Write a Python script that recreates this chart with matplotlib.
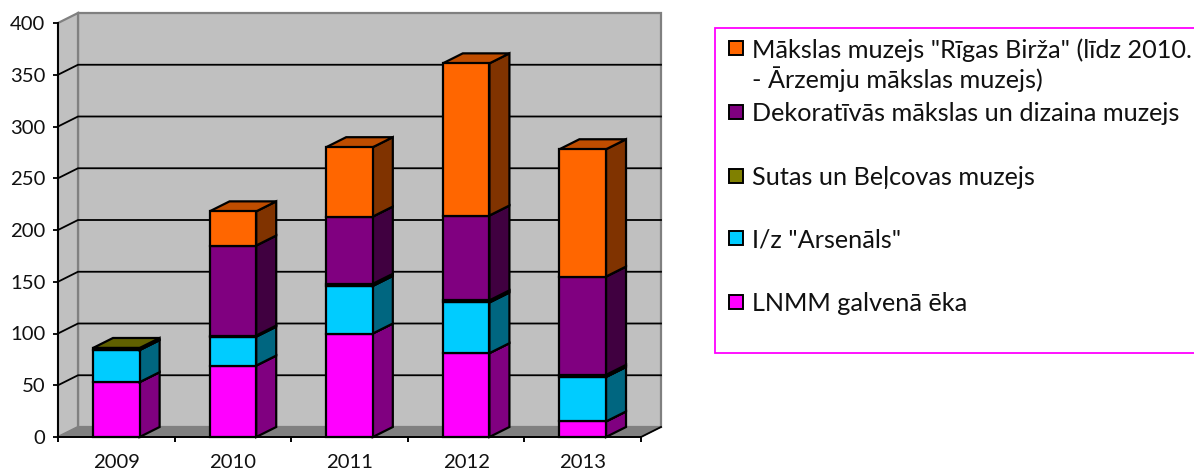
import matplotlib
matplotlib.use("Agg")
import numpy as np
import matplotlib.pyplot as plt
from matplotlib.patches import Polygon, Rectangle

plt.rcParams["font.family"] = ["Lato", "DejaVu Sans"]

years = ["2009", "2010", "2011", "2012", "2013"]
lnmm = [53, 69, 100, 81, 15]
arsenals = [31, 28, 46, 49, 43]
sutas = [2, 1, 2, 2, 2]
dekorativas = [0, 87, 65, 82, 95]
birza = [0, 33, 67, 147, 123]

series = [lnmm, arsenals, sutas, dekorativas, birza]
front_colors = ["#ff00ff", "#00ccff", "#808000", "#800080", "#ff6600"]
side_colors = ["#800080", "#006680", "#404000", "#400040", "#803300"]
top_colors = ["#bf00bf", "#0099bf", "#606000", "#600060", "#bf4d00"]

legend_labels = [
    'Mākslas muzejs "Rīgas Birža" (līdz 2010.\n- Ārzemju mākslas muzejs)',
    "Dekoratīvās mākslas un dizaina muzejs",
    "Sutas un Beļcovas muzejs",
    'I/z "Arsenāls"',
    "LNMM galvenā ēka",
]
legend_colors = ["#ff6600", "#800080", "#808000", "#00ccff", "#ff00ff"]

W, H = 1194, 472
# 3D look: depth of the walls and bars in data units
DX = 20 / 116.6
DY = 10 / 1.035
BAR_W = 0.4
EDGE = 1.6


def poly(ax, pts, fc, ec="black", lw=EDGE, z=3):
    ax.add_patch(Polygon(pts, closed=True, facecolor=fc, edgecolor=ec, linewidth=lw,
                         joinstyle="miter", zorder=z, clip_on=False))


fig = plt.figure(figsize=(W / 100, H / 100), dpi=100)
ax = fig.add_axes([58 / W, 1 - 437 / H, (641 - 58) / W, (437 - 23) / H])
ax.set_xlim(0, 5)
ax.set_ylim(0, 400)
ax.patch.set_visible(False)

# walls and floor
poly(ax, [(DX, DY), (5 + DX, DY), (5 + DX, 400 + DY), (DX, 400 + DY)], "#c0c0c0", "#808080", 1.6, 1)
poly(ax, [(0, 0), (DX, DY), (DX, 400 + DY), (0, 400)], "#c0c0c0", "#808080", 1.6, 1)
poly(ax, [(0, 0), (5, 0), (5 + DX, DY), (DX, DY)], "#808080", "#808080", 1, 1)

yticks = np.arange(0, 401, 50)
for v in yticks[1:-1]:
    ax.plot([0, DX, 5 + DX], [v, v + DY, v + DY], color="black", lw=1.3, zorder=2, clip_on=False)
ax.plot([5, 5 + DX], [0, DY], color="black", lw=1.3, zorder=2, clip_on=False)

# stacked bars, front to top
for i in range(len(years)):
    x0 = i + 0.5 - BAR_W / 2
    x1 = i + 0.5 + BAR_W / 2
    base = 0
    for s, vals in enumerate(series):
        v = vals[i]
        if v == 0:
            continue
        top = base + v
        poly(ax, [(x1, base), (x1 + DX, base + DY), (x1 + DX, top + DY), (x1, top)], side_colors[s], z=3 + i)
        poly(ax, [(x0, top), (x1, top), (x1 + DX, top + DY), (x0 + DX, top + DY)], top_colors[s], z=3 + i)
        poly(ax, [(x0, base), (x1, base), (x1, top), (x0, top)], front_colors[s], z=3 + i)
        base = top

ax.spines["top"].set_visible(False)
ax.spines["right"].set_visible(False)
ax.spines["left"].set_linewidth(1.4)
ax.spines["bottom"].set_linewidth(1.4)
ax.spines["left"].set_zorder(20)
ax.spines["bottom"].set_zorder(20)
ax.set_yticks(yticks)
ax.set_xticks(np.arange(0, 6))
ax.set_xticklabels([])
ax.set_xticks(np.arange(len(years)) + 0.5, years, minor=True)
ax.tick_params(axis="y", length=3.6, width=1.4, pad=5.5, labelsize=14.6, colors="#111111")
ax.tick_params(axis="x", which="major", length=3.6, width=1.4)
ax.tick_params(axis="x", which="minor", length=0, pad=12.5, labelsize=14.6, colors="#111111")

# legend box runs off the right edge of the picture
lax = fig.add_axes([0, 0, 1, 1])
lax.set_xlim(0, W)
lax.set_ylim(H, 0)
lax.axis("off")
lax.add_patch(Rectangle((715, 28), 500, 325, facecolor="white", edgecolor="#ff00ff", linewidth=1.3))
legend_y = [48, 112, 176, 238, 302]
for label, color, y in zip(legend_labels, legend_colors, legend_y):
    lax.add_patch(Rectangle((728.5, y - 7), 14, 14, facecolor=color, edgecolor="black", linewidth=1.4))
    lax.text(752, y - 10, label, fontsize=18.2, va="top", ha="left", color="#111111", linespacing=1.2)

fig.savefig("out.png", dpi=100)
